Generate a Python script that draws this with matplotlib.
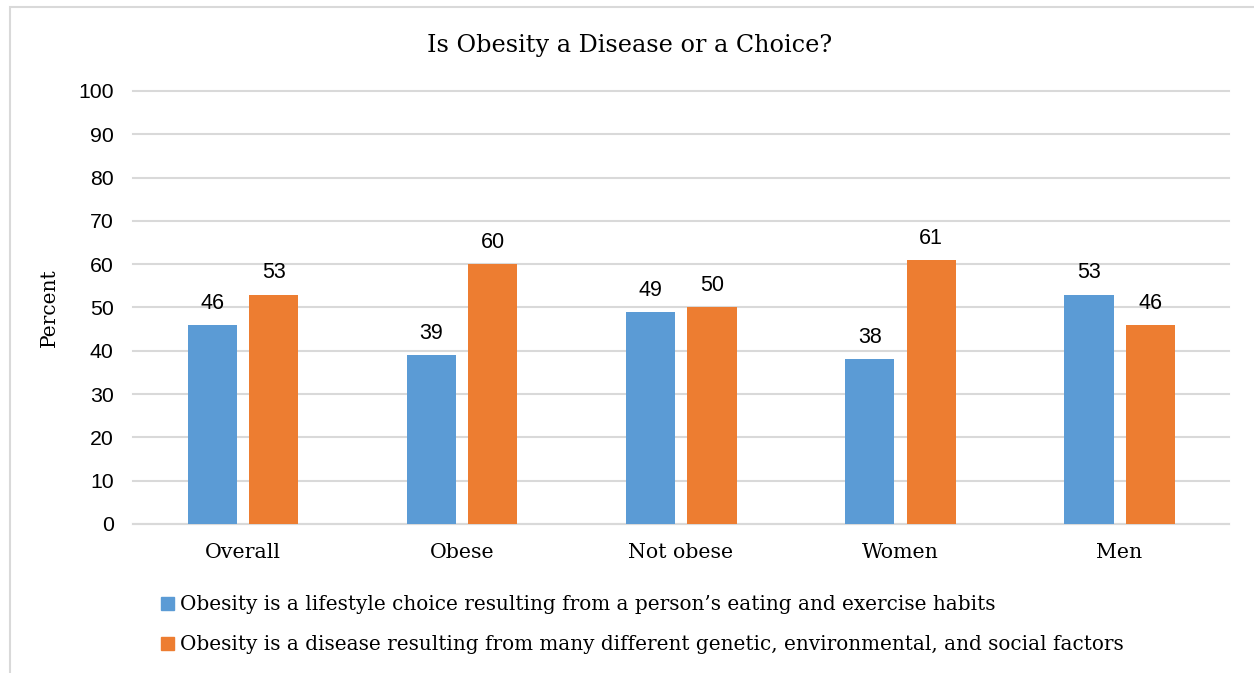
import matplotlib.pyplot as plt
from matplotlib.patches import Rectangle, Patch
import numpy as np

# Data
categories = ['Overall', 'Obese', 'Not obese', 'Women', 'Men']
lifestyle = [46, 39, 49, 38, 53]
disease = [53, 60, 50, 61, 46]
series_names = ["Obesity is a lifestyle choice resulting from a person\u2019s eating and exercise habits",
                "Obesity is a disease resulting from many different genetic, environmental, and social factors"]

blue = '#5B9BD5'
orange = '#ED7D31'
serif = 'DejaVu Serif'
sans = 'Liberation Sans'

fig = plt.figure(figsize=(12.54, 6.73), dpi=100)
ax = fig.add_axes([0.1061, 0.2214, 0.8740, 0.6434])

# light grey chart border
fig.patches.append(Rectangle((10 / 1254, -0.1), 1.2, 1.1 - 7 / 673, transform=fig.transFigure,
                             fill=False, edgecolor='#D9D9D9', linewidth=1.5))

x = np.arange(len(categories))
w = 0.224
b1 = ax.bar(x - 0.139, lifestyle, w, color=blue, zorder=3)
b2 = ax.bar(x + 0.141, disease, w, color=orange, zorder=3)

for bars in (b1, b2):
    for rect in bars:
        h = rect.get_height()
        ax.annotate(f'{h:.0f}', (rect.get_x() + rect.get_width() / 2, h), xytext=(0, 8),
                    textcoords='offset points', ha='center', va='bottom',
                    fontsize=15.5, family=sans, color='#000000')

ax.set_xlim(-0.5, len(categories) - 0.5)
ax.set_ylim(0, 100)
ax.set_yticks(range(0, 101, 10))
ax.yaxis.grid(True, color='#D9D9D9', linewidth=1.5, zorder=0)
for gl in ax.get_ygridlines():
    gl.set_clip_on(False)
ax.set_axisbelow(True)
for s in ['top', 'right', 'left']:
    ax.spines[s].set_visible(False)
ax.spines['bottom'].set_color('#D9D9D9')
ax.spines['bottom'].set_linewidth(1.5)
ax.tick_params(length=0)
ax.tick_params(axis='y', pad=14, labelsize=15.3)
ax.tick_params(axis='x', pad=14, labelsize=14.8)
for lab in ax.get_yticklabels():
    lab.set_family(sans)
ax.set_xticks(x)
ax.set_xticklabels(categories, family=serif)

ax.set_ylabel('Percent', family=serif, fontsize=14.5, labelpad=14)

fig.text(0.502, 0.933, 'Is Obesity a Disease or a Choice?', ha='center', va='center',
         family=serif, fontsize=17.2)

handles = [Patch(color=blue), Patch(color=orange)]
fig.legend(handles, series_names, loc='upper left', bbox_to_anchor=(0.114, 0.142),
           frameon=False, prop={'family': serif, 'size': 14.4}, handlelength=0.65,
           handleheight=0.65, handletextpad=0.3, labelspacing=1.05)

fig.savefig('out.png', dpi=100)
